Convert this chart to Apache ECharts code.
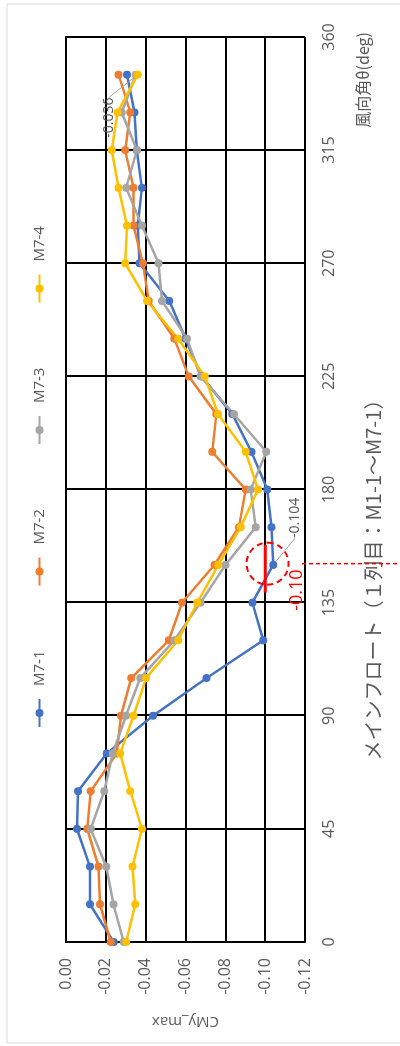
<!DOCTYPE html>
<html><head><meta charset="utf-8">
<script src="https://cdn.jsdelivr.net/npm/echarts@6/dist/echarts.min.js"></script>
<style>
html,body{margin:0;padding:0;width:400px;height:1046px;overflow:hidden;background:#fff;}
#wrap{position:absolute;left:0;top:0;width:1046px;height:400px;transform-origin:0 0;transform:translate(0px,1046px) rotate(-90deg);}
#chart{width:1046px;height:400px;}
</style></head><body>
<div id="wrap"><div id="chart"></div></div>
<script>
const angles = [0,15,30,45,60,75,90,105,120,135,150,165,180,195,210,225,240,255,270,285,300,315,330,345];
const seriesNames = ['M7-1','M7-2','M7-3','M7-4'];
const m71 = [-0.024,-0.012,-0.012,-0.0055,-0.006,-0.0205,-0.0437,-0.0706,-0.099,-0.0936,-0.104,-0.1032,-0.1011,-0.0931,-0.0835,-0.068,-0.060,-0.0519,-0.0369,-0.036,-0.0381,-0.0355,-0.0344,-0.0306];
const m72 = [-0.0225,-0.0171,-0.0163,-0.0107,-0.0124,-0.0255,-0.0276,-0.0328,-0.0516,-0.0583,-0.0745,-0.0868,-0.0902,-0.0734,-0.0755,-0.0616,-0.0544,-0.0415,-0.0386,-0.0339,-0.0339,-0.0297,-0.0323,-0.0264];
const m73 = [-0.029,-0.0238,-0.0202,-0.0124,-0.0192,-0.0235,-0.0301,-0.0373,-0.0544,-0.0675,-0.0801,-0.0953,-0.0927,-0.1006,-0.0843,-0.0675,-0.0608,-0.0482,-0.0465,-0.0381,-0.0302,-0.0356,-0.028,-0.035];
const m74 = [-0.0302,-0.0348,-0.0334,-0.0381,-0.0323,-0.0272,-0.0339,-0.0402,-0.0563,-0.0659,-0.0765,-0.0877,-0.0964,-0.0902,-0.0763,-0.0697,-0.0563,-0.0407,-0.0297,-0.0306,-0.0264,-0.023,-0.0259,-0.036];
const xTicks = [0,45,90,135,180,225,270,315,360];
const yTicks = [0,-0.02,-0.04,-0.06,-0.08,-0.10,-0.12];
const xTitle = '風向角θ(deg)';
const yTitle = 'CMy_max';
const mainTitle = 'メインフロート（１列目：M1-1～M7-1）';
// annotations (data coordinates)
const annoCircle = [150.5, -0.1012];
const annoBar = [[139, -0.10], [158, -0.10]];
const annoDash = [150.5, -0.1185];
const annoText = {pos: [140, -0.1158], text: '-0.10'};
// labelled points: [seriesIndex, dataIndex, dx, dy]
const labelled = [[0, 10, 47, 22], [3, 23, -43, -29]];

const colors = ['#4472C4','#ED7D31','#A5A5A5','#FFC000'];
const vals = [m71, m72, m73, m74];
const grey = '#595959';
const fontLat = '"Open Sans","Noto Sans CJK JP",sans-serif';

const series = vals.map((v, si) => {
  const lab = labelled.find(l => l[0] === si);
  return {
    name: seriesNames[si], type: 'line',
    symbol: 'circle', symbolSize: 8,
    lineStyle: {width: 2.5, color: colors[si]},
    itemStyle: {color: colors[si]},
    emphasis: {disabled: true},
    data: angles.map((a, i) => {
      const d = {value: [a, v[i]]};
      if (lab && lab[1] === i) {
        d.label = {show: true, position: 'inside', formatter: p => p.value[1].toFixed(3),
          color: grey, fontSize: 14, fontFamily: fontLat};
        d.labelLine = {show: true, lineStyle: {color: '#A5A5A5', width: 1}};
      }
      return d;
    }),
    labelLayout: p => {
      if (lab && p.dataIndex === lab[1]) return {dx: lab[2], dy: lab[3]};
      return {};
    }
  };
});

const chart = echarts.init(document.getElementById('chart'));
chart.setOption({
  animation: false,
  backgroundColor: '#fff',
  grid: {left: 104, right: 37, top: 66, bottom: 95, containLabel: false, outerBoundsMode: 'none'},
  legend: {
    data: seriesNames, left: 313, top: 27, itemWidth: 28, itemHeight: 10, itemGap: 64,
    textStyle: {color: grey, fontSize: 15, fontFamily: fontLat, padding: [0,0,0,8]}
  },
  xAxis: {
    type: 'value', min: 0, max: 360, interval: 45,
    axisLine: {show: true, lineStyle: {color: '#000', width: 2}},
    axisTick: {show: false},
    axisLabel: {color: grey, fontSize: 16, fontFamily: fontLat, margin: 16,
      formatter: v => xTicks.includes(v) ? String(v) : ''},
    splitLine: {show: true, lineStyle: {color: '#000', width: 2}}
  },
  yAxis: {
    type: 'value', min: -0.12, max: 0, interval: 0.02,
    axisLine: {show: true, lineStyle: {color: '#000', width: 2}},
    axisTick: {show: false},
    axisLabel: {color: grey, fontSize: 16, fontFamily: fontLat, margin: 16,
      formatter: v => { const t = yTicks.find(k => Math.abs(k - v) < 1e-9); return t === undefined ? '' : (Math.abs(t) < 1e-12 ? '0.00' : t.toFixed(2)); }},
    splitLine: {show: true, lineStyle: {color: '#000', width: 2}},
    name: yTitle, nameLocation: 'middle', nameGap: 72, nameRotate: 90,
    nameTextStyle: {color: grey, fontSize: 15, fontFamily: fontLat}
  },
  series: series
});

const px = c => chart.convertToPixel({gridIndex: 0}, c);
const cc = px(annoCircle);
const b0 = px(annoBar[0]), b1 = px(annoBar[1]);
const d0 = px(annoDash);
const tp = px(annoText.pos);
const H = chart.getHeight();
const gr = px([360, -0.12]);
chart.setOption({
  graphic: [
    {type: 'rect', shape: {x: 3, y: 7, width: 1039, height: H + 20}, style: {fill: 'none', stroke: '#d9d9d9', lineWidth: 1}, z: 0, silent: true},
    {type: 'circle', shape: {cx: cc[0], cy: cc[1], r: 21}, style: {fill: 'none', stroke: '#FF0000', lineWidth: 2, lineDash: [6, 4]}, z: 100},
    {type: 'line', shape: {x1: b0[0], y1: b0[1], x2: b1[0], y2: b1[1]}, style: {stroke: '#FF0000', lineWidth: 3}, z: 100},
    {type: 'line', shape: {x1: d0[0], y1: d0[1], x2: d0[0], y2: H}, style: {stroke: '#FF0000', lineWidth: 1.5, lineDash: [4, 3]}, z: 100},
    {type: 'text', x: tp[0], y: tp[1], style: {text: annoText.text, fill: '#FF0000', fontSize: 18, fontFamily: fontLat, align: 'center', verticalAlign: 'middle'}, z: 100},
    {type: 'text', x: gr[0] + 5, y: gr[1] + 58, style: {text: xTitle, fill: grey, fontSize: 16, fontFamily: '"Noto Sans CJK JP",sans-serif', align: 'right', verticalAlign: 'middle'}},
    {type: 'text', x: 471, y: gr[1] + 68, style: {text: mainTitle, fill: grey, fontSize: 20, fontFamily: '"Noto Sans CJK JP",sans-serif', align: 'center', verticalAlign: 'middle'}}
  ]
});
</script>
</body></html>
